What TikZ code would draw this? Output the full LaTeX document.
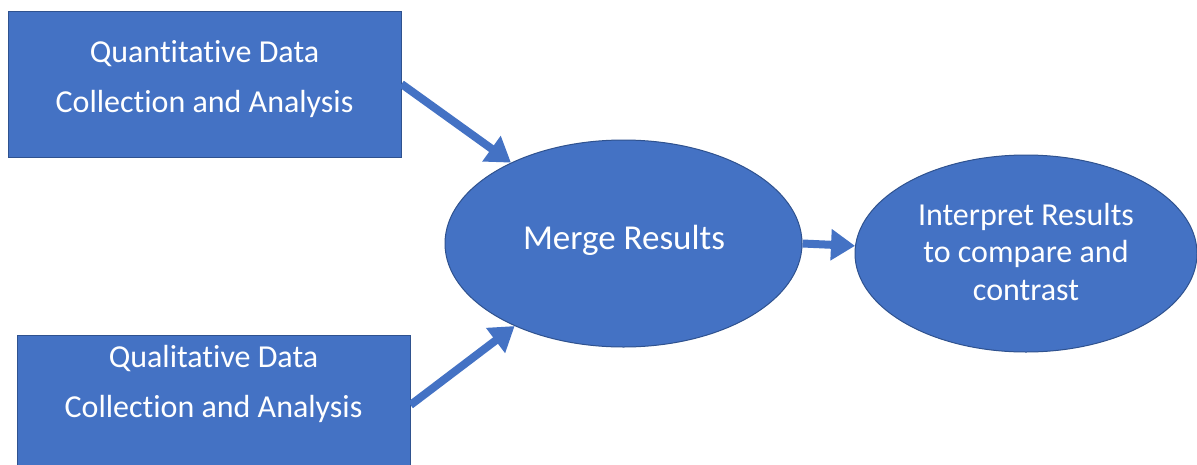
\documentclass[tikz,border=0pt]{standalone}
\usepackage{fontspec}
\setmainfont{Carlito}[Ligatures=NoCommon]
\usetikzlibrary{arrows.meta,shapes.geometric}
\definecolor{ofblue}{HTML}{4472C4}
\definecolor{ofedge}{HTML}{2F528F}
\tikzset{
  box/.style={draw=ofedge, line width=1pt, fill=ofblue, rectangle, inner sep=0pt},
  oval/.style={draw=ofedge, line width=1pt, fill=ofblue, ellipse, inner sep=0pt},
  txt/.style={text=white, align=center, inner sep=0pt, font=\fontsize{32}{50}\selectfont},
  arr/.style={draw=ofblue, line width=8pt, -{Triangle[width=30pt,length=24pt]}}
}
\begin{document}
\begin{tikzpicture}[x=1pt,y=-1pt]
\useasboundingbox (0,0) rectangle (1197,464);
\clip (0,0) rectangle (1197,464);
\fill[white] (0,0) rectangle (1197,464);
% boxes
\node[box, minimum width=393pt, minimum height=146pt] (q) at (204.5,84) {};
\node[txt] (qt) at (204.5,79) {Quantitative Data\\Collection and Analysis};
\node[box, minimum width=393pt, minimum height=140pt] (l) at (213.5,405) {};
\node[txt] (lt) at (213.5,384) {Qualitative Data\\Collection and Analysis};
% ellipses
\node[oval, minimum width=357pt, minimum height=207pt] (m) at (623.5,243.5) {};
\node[txt, font=\fontsize{35}{42}\selectfont] (mt) at (624,240) {Merge Results};
\node[oval, minimum width=342pt, minimum height=197pt] (i) at (1026,253.5) {};
\node[txt, font=\fontsize{32}{37.5}\selectfont] (it) at (1026,252) {Interpret Results\\to compare and\\contrast};
% arrows
\draw[arr] (q.east) -- (m);
\draw[arr] (l.east) -- (m);
\draw[arr] (m.east) -- (i);
\end{tikzpicture}
\end{document}
